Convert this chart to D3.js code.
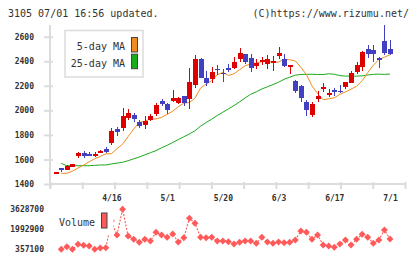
<!DOCTYPE html>
<html><head><meta charset="utf-8">
<script src="https://cdn.jsdelivr.net/npm/d3@7"></script>
<style>body{margin:0;background:#fff;} svg{display:block;}</style>
</head><body><svg id="c" width="420" height="259"></svg>
<script>
// ---- data ----
const opens  = [1495,1530,1514,1541,1625,1652,1644,1628,1655,1685,1733,1848,1860,1935,1960,1905,1880,1920,1972,2075,2050,2074,2057,2115,2090,2210,2418,2262,2256,2337,2307,2342,2347,2418,2460,2426,2364,2390,2375,2388,2443,2416,2356,2239,2198,2068,1962,2090,2171,2125,2166,2160,2193,2225,2315,2350,2497,2492,2426,2565,2497];
const highs  = [1495,1530,1558,1565,1663,1669,1663,1658,1675,1698,1855,1864,2020,2008,1975,1920,1950,1968,2062,2095,2062,2166,2108,2120,2345,2450,2425,2320,2356,2370,2337,2380,2432,2505,2463,2459,2415,2432,2451,2443,2514,2459,2372,2247,2206,2084,2070,2160,2225,2176,2185,2207,2231,2320,2394,2483,2532,2532,2437,2695,2573];
const lows   = [1495,1495,1514,1541,1609,1614,1630,1617,1652,1655,1717,1790,1835,1925,1905,1860,1845,1915,1955,2038,1972,2072,2050,2035,2015,2182,2262,2195,2220,2290,2233,2310,2340,2394,2380,2312,2334,2372,2334,2323,2421,2350,2296,2140,2066,1955,1948,2070,2147,2105,2117,2144,2172,2222,2300,2323,2430,2396,2342,2451,2451];
const closes = [1495,1512,1549,1563,1652,1628,1638,1644,1668,1657,1832,1820,1954,1978,1928,1875,1915,1953,2042,2052,2005,2100,2098,2063,2231,2418,2262,2226,2312,2325,2297,2330,2394,2467,2396,2342,2388,2410,2421,2402,2464,2361,2369,2158,2103,2003,2052,2117,2193,2144,2150,2146,2231,2307,2369,2475,2460,2455,2407,2470,2460];
const ma5    = [null,1487,1487,1505,1530,1554,1581,1606,1625,1646,1647,1688,1724,1786,1848,1902,1911,1930,1930,1943,1967,1993,2030,2059,2064,2099,2182,2214,2240,2290,2309,2284,2298,2332,2363,2377,2386,2397,2401,2391,2393,2417,2412,2403,2351,2291,2199,2137,2087,2094,2102,2131,2150,2173,2196,2241,2306,2368,2413,2433,2453];
const ma25   = [null,1568,1549,1549,1549,1549,1549,1552,1555,1555,1563,1570,1577,1590,1605,1620,1637,1655,1672,1695,1715,1738,1762,1785,1808,1834,1871,1901,1928,1958,1985,2012,2039,2069,2101,2131,2151,2174,2192,2210,2229,2253,2270,2287,2292,2294,2294,2292,2292,2298,2294,2283,2279,2279,2279,2281,2288,2293,2295,2293,2296];
const volumes= [null,357100,570000,357100,766000,684000,627000,357100,463000,488000,2672000,1527000,3628700,1445000,1175000,930000,1175000,1036000,1747000,1527000,1339000,1608000,954000,1306000,2893000,2484000,1339000,1300000,1339000,1036000,1036000,979000,791000,930000,1036000,1036000,848000,1339000,954000,848000,954000,897000,930000,1118000,1854000,1747000,1175000,1527000,709000,627000,521000,791000,1118000,709000,1175000,1584000,1339000,848000,1118000,1936000,1199000];
const priceTicks = [1400,1600,1800,2000,2200,2400,2600];
const volTicks = [357100,1992900,3628700];
const xTickIndex = [10,20,30,40,50,60];
const xTickLabels = ["4/16","5/1","5/20","6/3","6/17","7/1"];
const legendLabels = ["5-day MA","25-day MA"];

// ---- drawing ----
const svg = d3.select("#c");
const mono = "'DejaVu Sans Mono', monospace";
const idx = d3.range(opens.length);
const x = d3.scaleLinear().domain([0, opens.length-1]).range([55.7, 390]);
const y = d3.scaleLinear().domain([1400,2600]).range([184,36.7]);
const yv = d3.scaleLinear().domain([357100,3628700]).range([249.3,209.3]);
const grid = "#dcdcdc";

// header
svg.append("text").attr("x",8).attr("y",17).attr("font-family",mono).attr("font-size",10).attr("fill","#333").text("3105 07/01 16:56 updated.");
svg.append("text").attr("x",409).attr("y",17).attr("text-anchor","end").attr("font-family",mono).attr("font-size",10).attr("fill","#333").text("(C)https://www.rizumu.net/");

// y axis line
svg.append("line").attr("x1",50).attr("x2",50).attr("y1",25).attr("y2",189).attr("stroke",grid).attr("stroke-width",2);
// left axis
const gy = svg.append("g").attr("transform","translate(50,0)")
  .call(d3.axisLeft(y).tickValues(priceTicks).tickSize(6).tickPadding(10).tickFormat(d3.format("d")));
gy.select(".domain").remove();
gy.selectAll(".tick line").attr("x1",3).attr("x2",-6).attr("stroke",grid).attr("stroke-width",2);
gy.selectAll(".tick text").attr("font-family",mono).attr("font-size",8).attr("font-weight","bold").attr("fill","#333");

// bottom axis (evenly spaced tick marks)
const xt = d3.scaleLinear().domain([0,11]).range([50,405]);
const gx = svg.append("g").attr("transform","translate(0,184)")
  .call(d3.axisBottom(xt).tickValues(d3.range(12)).tickSize(5).tickFormat(""));
gx.select(".domain").attr("d","M50,0H405").attr("stroke",grid).attr("stroke-width",2);
gx.selectAll(".tick line").attr("y1",-2).attr("y2",5).attr("stroke",grid).attr("stroke-width",2);

// date labels
const gl = svg.append("g").attr("transform","translate(0,184)")
  .call(d3.axisBottom(x).tickValues(xTickIndex).tickSize(0).tickPadding(11.3).tickFormat((d,i)=>xTickLabels[i]));
gl.select(".domain").remove();
gl.selectAll(".tick text").attr("font-family",mono).attr("font-size",8).attr("font-weight","bold").attr("fill","#333");

// legend
svg.append("rect").attr("x",65).attr("y",30.5).attr("width",78).attr("height",46.5).attr("fill","#fff").attr("stroke",grid).attr("stroke-width",1.5);
const legColors = ["#f08c1e","#1aaa1a"];
legendLabels.forEach((t,i)=>{
  svg.append("text").attr("x",125).attr("y",50+i*16.5).attr("text-anchor","end").attr("font-family",mono).attr("font-size",10).attr("fill","#333").text(t);
  svg.append("rect").attr("x",131.5).attr("y",37.5+i*16.7).attr("width",6).attr("height",14.5).attr("fill",legColors[i]).attr("stroke","#444").attr("stroke-width",1);
});

// MA lines
const lineGen = arr => d3.line().defined(i=>arr[i]!=null).x(i=>x(i)).y(i=>y(arr[i]))(idx);
svg.append("path").attr("d",lineGen(ma25)).attr("fill","none").attr("stroke","#1aaa1a").attr("stroke-width",1);
svg.append("path").attr("d",lineGen(ma5)).attr("fill","none").attr("stroke","#f08c1e").attr("stroke-width",1);

// candles
const cg = svg.append("g").attr("shape-rendering","crispEdges");
idx.forEach(i=>{
  const up = closes[i] >= opens[i];
  const col = up ? "#dd0000" : "#4040c0";
  const cx = Math.round(x(i));
  cg.append("line").attr("x1",cx+0.5).attr("x2",cx+0.5).attr("y1",y(highs[i])).attr("y2",y(lows[i])).attr("stroke",col).attr("stroke-width",1);
  const top = y(Math.max(opens[i],closes[i])), bot = y(Math.min(opens[i],closes[i]));
  cg.append("rect").attr("x",cx-2).attr("y",top).attr("width",5).attr("height",Math.max(1.5,bot-top)).attr("fill",col);
});

// volume
const vcol = "#ff5a5a";
const vline = d3.line().defined(i=>volumes[i]!=null).x(i=>x(i)).y(i=>yv(volumes[i]));
svg.append("path").attr("d",vline(idx)).attr("fill","none").attr("stroke",vcol).attr("stroke-width",1.1).attr("stroke-dasharray","2,1.5");
svg.append("g").selectAll("path").data(idx.filter(i=>volumes[i]!=null)).join("path")
  .attr("d",d3.symbol(d3.symbolSquare,24))
  .attr("transform",i=>`translate(${x(i)},${yv(volumes[i])}) rotate(45)`)
  .attr("fill",vcol);
// volume legend (white background)
svg.append("rect").attr("x",55).attr("y",206).attr("width",58.5).attr("height",29).attr("fill","#fff");
svg.append("text").attr("x",59).attr("y",226).attr("font-family",mono).attr("font-size",10).attr("fill","#333").text("Volume");
svg.append("rect").attr("x",101.5).attr("y",213).attr("width",5.5).attr("height",15).attr("fill",vcol).attr("stroke","#444").attr("stroke-width",1);
// volume axis labels
const gv = svg.append("g").attr("transform","translate(44,0)")
  .call(d3.axisLeft(yv).tickValues(volTicks).tickSize(0).tickPadding(0).tickFormat(d3.format("d")));
gv.select(".domain").remove();
gv.selectAll(".tick text").attr("font-family",mono).attr("font-size",8).attr("font-weight","bold").attr("fill","#333");
</script></body></html>
